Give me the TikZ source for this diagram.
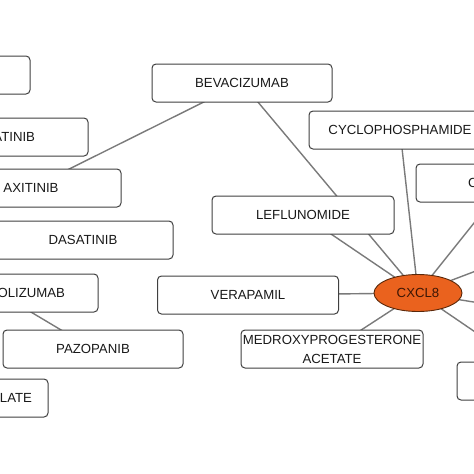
\documentclass[tikz,border=0pt]{standalone}
\usepackage{fontspec}
\setmainfont{Liberation Sans}
\usetikzlibrary{shapes.geometric,backgrounds}

\definecolor{hubfill}{RGB}{234,98,30}
\definecolor{hubline}{RGB}{90,40,10}
\definecolor{hubtext}{RGB}{60,22,5}

\begin{document}
\begin{tikzpicture}[
  x=1pt, y=-1pt,
  drug/.style={draw=black!75, line width=1pt, rounded corners=4pt, fill=white,
    minimum width=180pt, minimum height=38pt, inner sep=0pt, align=center,
    text=black!90, font=\fontsize{13.2pt}{19pt}\selectfont},
  hub/.style={ellipse, draw=hubline, line width=0.9pt, fill=hubfill, text=hubtext,
    minimum width=88pt, minimum height=37pt, inner sep=0pt,
    font=\fontsize{13.2pt}{19pt}\selectfont},
  link/.style={draw=black!52, line width=1.4pt}
]
\useasboundingbox (0,0) rectangle (474,474);
\clip (0,0) rectangle (474,474);

% drug boxes
\node[drug] (topleft) at (-60,75) {};
\node[drug] (beva) at (242,83) {BEVACIZUMAB};
\node[drug, text width=74pt, inner xsep=53pt, align=right] (atinib) at (-2,137) {ATINIB};
\node[drug] (axitinib) at (31,188) {AXITINIB};
\node[drug] (dasatinib) at (83,240) {DASATINIB};
\node[drug, text width=132pt, inner xsep=33pt, align=right] (olizumab) at (-1,293) {OLIZUMAB};
\node[drug] (pazopanib) at (93,349) {PAZOPANIB};
\node[drug, text width=148pt, inner xsep=16pt, align=right] (late) at (-42,398) {LATE};
\node[drug, minimum width=182pt] (lef) at (303,215) {LEFLUNOMIDE};
\node[drug, minimum width=182pt] (cyclo) at (400,130) {CYCLOPHOSPHAMIDE};
\node[drug, text width=76pt, inner xsep=51pt, align=left] (cbox) at (506,183) {C};
\node[drug, minimum width=181pt] (vera) at (248,295) {VERAPAMIL};
\node[drug, minimum width=182pt] (medroxy) at (332,349) {MEDROXYPROGESTERONE\\ACETATE};
\node[drug] (lowright) at (547,381) {};

% target gene
\node[hub] (cxcl) at (418,293) {CXCL8};

\coordinate (outa) at (560,239);
\coordinate (outb) at (560,316);

\begin{scope}[on background layer]
\draw[link] (beva.center) -- (axitinib.center);
\draw[link] (olizumab.center) -- (pazopanib.center);
\draw[link] (beva.center) -- (cxcl.center);
\draw[link] (lef.center) -- (cxcl.center);
\draw[link] (cyclo.center) -- (cxcl.center);
\draw[link] (cbox.center) -- (cxcl.center);
\draw[link] (vera.center) -- (cxcl.center);
\draw[link] (medroxy.center) -- (cxcl.center);
\draw[link] (lowright.center) -- (cxcl.center);
\draw[link] (outa) -- (cxcl.center);
\draw[link] (outb) -- (cxcl.center);
\end{scope}
\end{tikzpicture}
\end{document}
